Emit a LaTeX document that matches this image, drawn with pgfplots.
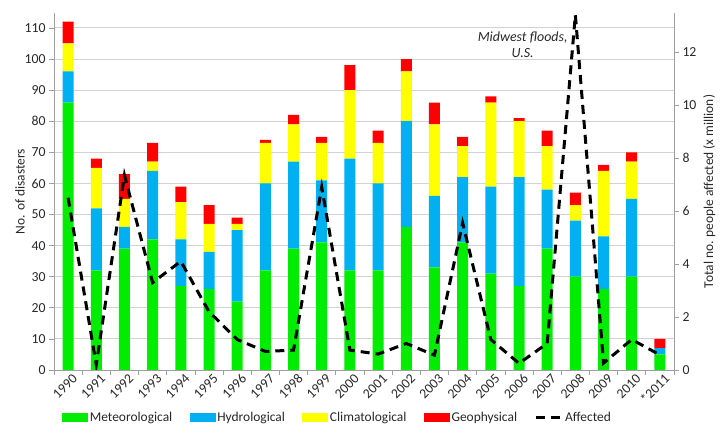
\documentclass[border=0pt]{standalone}
\usepackage{pgfplots}
\pgfplotsset{compat=1.18}
\usepackage{fontspec}
\setmainfont{Carlito}
\definecolor{cMet}{RGB}{0,236,0}
\definecolor{cHyd}{RGB}{0,176,240}
\definecolor{cCli}{RGB}{255,255,0}
\definecolor{cGeo}{RGB}{255,0,0}
\definecolor{cTxt}{RGB}{40,40,40}
\pgfplotsset{
  barleg/.style={legend image code/.code={\fill[##1] (0bp,-4.5bp) rectangle (26bp,4.5bp);}},
  lineleg/.style={legend image code/.code={\draw[##1] (0bp,0bp) -- (26bp,0bp);}},
}
\begin{document}
\begin{tikzpicture}
\path[use as bounding box] (0,0) rectangle (724bp,426bp);
\begin{axis}[
  at={(54bp,56bp)}, anchor=south west,
  width=620bp, height=357bp, scale only axis,
  xmin=-0.5, xmax=21.5, ymin=0, ymax=114.8,
  ybar stacked, bar width=11bp,
  axis x line*=bottom, axis y line*=left,
  axis line style={gray!75, line width=0.8bp},
  xtick={0,...,21},
  xticklabels={1990,1991,1992,1993,1994,1995,1996,1997,1998,1999,2000,2001,2002,2003,2004,2005,2006,2007,2008,2009,2010,*2011},
  major x tick style={draw=none},
  minor xtick={-0.5,0.5,...,21.5},
  minor x tick style={gray!75, line width=0.8bp},
  minor tick length=5bp,
  ytick={0,10,...,110},
  major tick length=5bp,
  tick align=outside,
  y tick style={gray!75, line width=0.8bp},
  ymajorgrids, grid style={gray!35, line width=1bp},
  /pgf/number format/assume math mode=true,
  tick label style={font=\fontsize{13.8}{16}\selectfont, text=cTxt},
  x tick label style={rotate=45, anchor=north east, inner sep=1bp, xshift=5bp},
  ylabel={No. of disasters}, ylabel shift=-7bp,
  ylabel style={font=\fontsize{13.5}{16}\selectfont, text=cTxt},
  legend columns=5,
  legend style={draw=none, fill=none, at={(0.457,-0.134)}, anchor=center, font=\fontsize{13.5}{16}\selectfont, text=cTxt,
    /tikz/every even column/.append style={column sep=16bp}, nodes={inner sep=1.5bp}},
]
\addplot[fill=cMet, draw=none, barleg] coordinates {(0,86) (1,32) (2,39) (3,42) (4,27) (5,26) (6,22) (7,32) (8,39) (9,41) (10,32) (11,32) (12,46) (13,33) (14,41) (15,31) (16,27) (17,39) (18,30) (19,26) (20,30) (21,5)};
\addlegendentry{Meteorological}
\addplot[fill=cHyd, draw=none, barleg] coordinates {(0,10) (1,20) (2,7) (3,22) (4,15) (5,12) (6,23) (7,28) (8,28) (9,20) (10,36) (11,28) (12,34) (13,23) (14,21) (15,28) (16,35) (17,19) (18,18) (19,17) (20,25) (21,2)};
\addlegendentry{Hydrological}
\addplot[fill=cCli, draw=none, barleg] coordinates {(0,9) (1,13) (2,9) (3,3) (4,12) (5,9) (6,2) (7,13) (8,12) (9,12) (10,22) (11,13) (12,16) (13,23) (14,10) (15,27) (16,18) (17,14) (18,5) (19,21) (20,12) (21,0)};
\addlegendentry{Climatological}
\addplot[fill=cGeo, draw=none, barleg] coordinates {(0,7) (1,3) (2,8) (3,6) (4,5) (5,6) (6,2) (7,1) (8,3) (9,2) (10,8) (11,4) (12,4) (13,7) (14,3) (15,2) (16,1) (17,5) (18,4) (19,2) (20,3) (21,3)};
\addlegendentry{Geophysical}
\addlegendimage{black, line width=3bp, dash pattern=on 9bp off 6bp, lineleg}
\addlegendentry{Affected}
\node[font=\fontsize{14}{16}\selectfont\itshape, align=center, text=cTxt] at (axis cs:16.13,104.5) {Midwest floods,\\U.S.};
\end{axis}
\begin{axis}[
  at={(54bp,56bp)}, anchor=south west,
  width=620bp, height=357bp, scale only axis,
  xmin=-0.5, xmax=21.5, ymin=0, ymax=13.47,
  axis x line=none, axis y line*=right,
  axis line style={gray!75, line width=0.8bp},
  ytick={0,2,...,12},
  major tick length=5bp, tick align=outside,
  y tick style={gray!75, line width=0.8bp},
  /pgf/number format/assume math mode=true,
  tick label style={font=\fontsize{13.8}{16}\selectfont, text=cTxt},
  ylabel={Total no. people affected (x million)}, ylabel style={font=\fontsize{13.5}{16}\selectfont, text=cTxt},
]
\addplot[black, line width=3bp, dash pattern=on 9bp off 6bp] coordinates {(0,6.5) (1,0.2) (2,7.35) (3,3.3) (4,4.1) (5,2.2) (6,1.15) (7,0.7) (8,0.75) (9,6.9) (10,0.75) (11,0.6) (12,1.0) (13,0.56) (14,5.55) (15,1.15) (16,0.25) (17,1.0) (18,13.4) (19,0.26) (20,1.15) (21,0.57)};
\end{axis}
\end{tikzpicture}
\end{document}
